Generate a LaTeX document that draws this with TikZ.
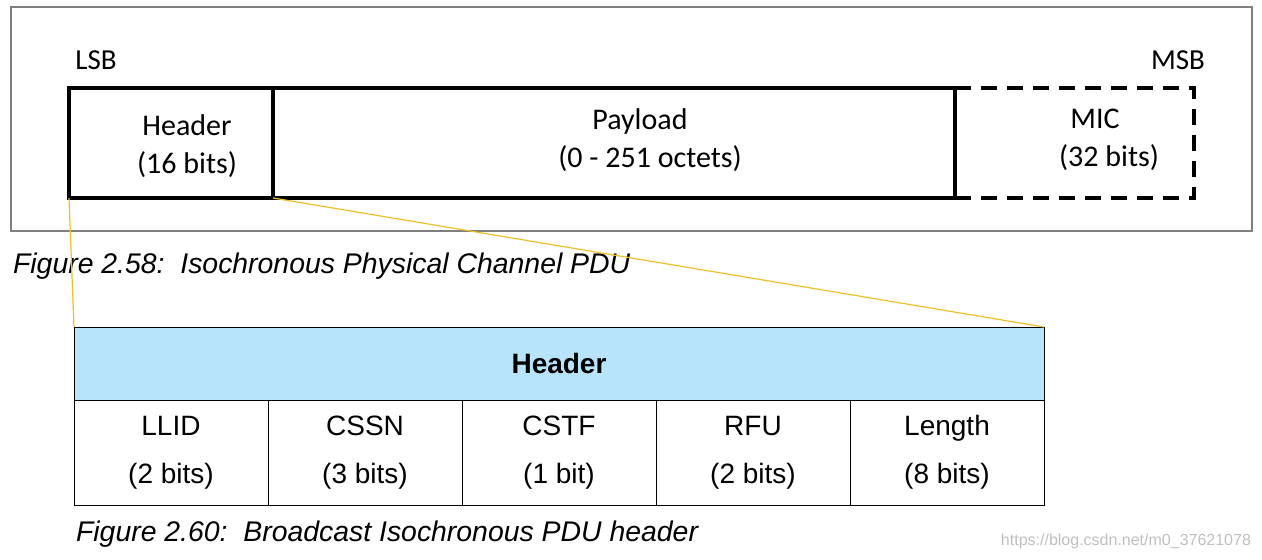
\documentclass[tikz,border=0pt]{standalone}
\usepackage{fontspec}
\setmainfont{Liberation Sans}
\newfontfamily\calfont{Carlito}
\usetikzlibrary{positioning}
\definecolor{hdrblue}{RGB}{183, 228, 250}
\definecolor{zoomyellow}{RGB}{240, 190, 40}

\begin{document}
\begin{tikzpicture}[x=0.5pt, y=-0.5pt,
        field/.style={rectangle, draw, line width=2pt, inner sep=0pt, outer sep=0pt, minimum height=55pt},
        fieldtext/.style={align=center, font=\calfont\fontsize{15}{19}\selectfont},
        cell/.style={rectangle, draw, line width=0.5pt, inner sep=0pt, outer sep=0pt, minimum width=97pt, minimum height=52.5pt, align=center, font=\fontsize{14}{24}\selectfont},
        caption/.style={anchor=west, font=\itshape\fontsize{14.2}{16}\selectfont},
        zoom/.style={zoomyellow, line width=0.6pt}
    ]
        \useasboundingbox (0,0) rectangle (1262,559);

        % Frame
        \node[rectangle, draw=gray, line width=0.6pt, minimum width=620.5pt, minimum height=112pt, inner sep=0pt] (frame) at (631.5,119) {};
        \node[font=\calfont\fontsize{14.5}{16}\selectfont] (lsb) at (96,60) {LSB};
        \node[font=\calfont\fontsize{14.5}{16}\selectfont] (msb) at (1178,60) {MSB};

        % PDU fields
        \node[field, minimum width=102pt] (header) at (171,143) {};
        \node[field, minimum width=341pt] (payload) at (614,143) {};
        \node[field, dashed, dash pattern=on 8pt off 5pt, minimum width=119.5pt] (mic) at (1074.5,143) {};
        \draw[line width=2pt] (payload.north east) -- (payload.south east);
        \node[fieldtext] (header-t) at (187,146) {Header\\(16 bits)};
        \node[fieldtext] (payload-t) at (640,140) {Payload\\\hspace*{10pt}(0 - 251 octets)};
        \node[fieldtext] (mic-t) at (1095,140) {MIC\\\hspace*{14pt}(32 bits)};

        \node[caption] (cap1) at (6,266) {Figure 2.58:\ \ Isochronous Physical Channel PDU};

        % Header table
        \node[rectangle, draw, fill=hdrblue, line width=0.5pt, minimum width=485pt, minimum height=36.5pt, inner sep=0pt, outer sep=0pt, font=\bfseries\fontsize{14}{16}\selectfont] (hdr) at (559,363.5) {Header};
        \node[cell] (llid) at (171,452.5) {LLID\\(2 bits)};
        \node[cell] (cssn) at (365,452.5) {CSSN\\(3 bits)};
        \node[cell] (cstf) at (559,452.5) {CSTF\\(1 bit)};
        \node[cell] (rfu) at (753,452.5) {RFU\\(2 bits)};
        \node[cell] (length) at (947,452.5) {Length\\(8 bits)};

        \draw[zoom] (header.south west) -- (hdr.north west);
        \draw[zoom] (header.south east) -- (hdr.north east);

        \node[caption] (cap2) at (69,534) {Figure 2.60:\ \ Broadcast Isochronous PDU header};
        \node[anchor=east, text=gray!50, font=\fontsize{8}{10}\selectfont] (mark) at (1258,541) {https://blog.csdn.net/m0\_37621078};
    \end{tikzpicture}
\end{document}
